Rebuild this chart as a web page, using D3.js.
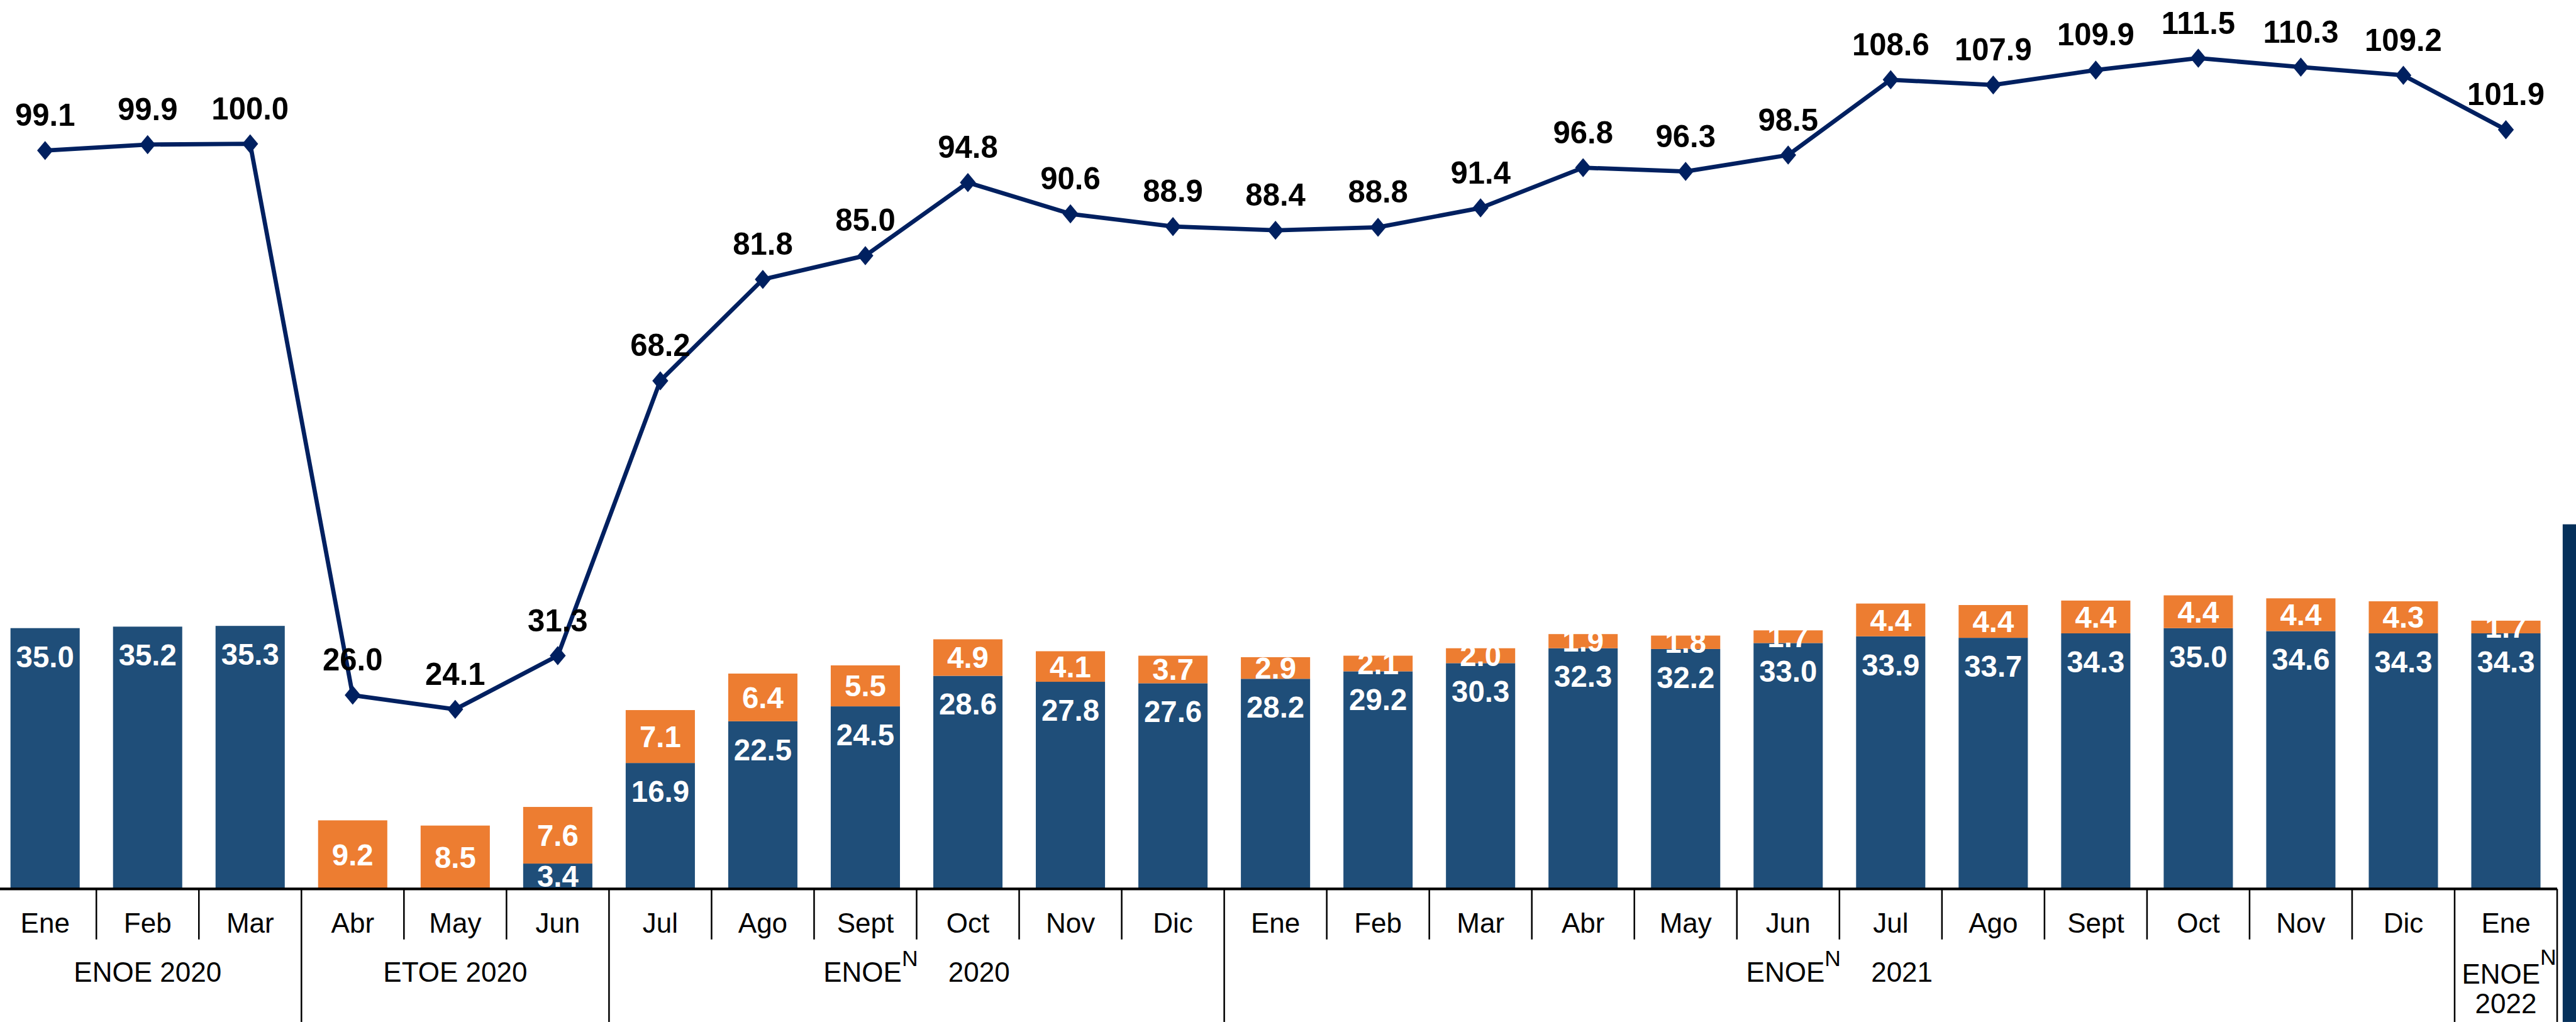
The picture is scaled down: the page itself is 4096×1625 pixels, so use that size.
<!DOCTYPE html>
<html>
<head>
<meta charset="utf-8">
<script src="https://cdn.jsdelivr.net/npm/d3@7"></script>
<style>
  html, body { margin: 0; padding: 0; background: #ffffff; overflow: hidden; }
  svg { display: block; }
</style>
</head>
<body>
<main></main>
<script>
// periods shown on the x axis
const periods = ["2020-01","2020-02","2020-03","2020-04","2020-05","2020-06","2020-07","2020-08","2020-09","2020-10","2020-11","2020-12",
                 "2021-01","2021-02","2021-03","2021-04","2021-05","2021-06","2021-07","2021-08","2021-09","2021-10","2021-11","2021-12","2022-01"];
const monthLabels = ["Ene","Feb","Mar","Abr","May","Jun","Jul","Ago","Sept","Oct","Nov","Dic",
                     "Ene","Feb","Mar","Abr","May","Jun","Jul","Ago","Sept","Oct","Nov","Dic","Ene"];

// stacked bars (blue bottom, orange top) and the line
const blueValues   = [35.0, 35.2, 35.3, null, null, 3.4, 16.9, 22.5, 24.5, 28.6, 27.8, 27.6,
                      28.2, 29.2, 30.3, 32.3, 32.2, 33.0, 33.9, 33.7, 34.3, 35.0, 34.6, 34.3, 34.3];
const orangeValues = [null, null, null, 9.2, 8.5, 7.6, 7.1, 6.4, 5.5, 4.9, 4.1, 3.7,
                      2.9, 2.1, 2.0, 1.9, 1.8, 1.7, 4.4, 4.4, 4.4, 4.4, 4.4, 4.3, 1.7];
const lineValues   = [99.1, 99.9, 100.0, 26.0, 24.1, 31.3, 68.2, 81.8, 85.0, 94.8, 90.6, 88.9,
                      88.4, 88.8, 91.4, 96.8, 96.3, 98.5, 108.6, 107.9, 109.9, 111.5, 110.3, 109.2, 101.9];

// survey groups below the months
const groupMain = ["ENOE 2020", "ETOE 2020", "ENOE", "ENOE", "ENOE"];
const groupSup  = ["", "", "N", "N", "N"];
const groupYear = ["", "", "2020", "2021", "2022"];
const groupSpan = [3, 3, 6, 12, 1];

const W = 4840, H = 1920;
const FONT = "'Liberation Sans', Arial, Helvetica, sans-serif";
const BLUE = "#1F4E79", ORANGE = "#ED7D31", NAVY = "#002060";
const BASE_Y = 1670;

const svg = d3.select("main").append("svg")
    .attr("width", 4096)
    .attr("height", 1625)
    .attr("viewBox", "0 0 " + W + " " + H)
    .style("font-family", FONT);

svg.append("rect").attr("width", W).attr("height", H).attr("fill", "#ffffff");

const x = d3.scaleBand()
    .domain(periods)
    .range([-11.6, 4804.6])
    .paddingInner(0.325)
    .paddingOuter(0.1625);

const y = d3.scaleLinear()
    .domain([0, 119.3])
    .range([BASE_Y, 0]);

const step = x.step();
const bandLeft = function (i) { return x(periods[i]) - x.paddingOuter() * step; };
const fmt = d3.format(".1f");

// decorative strip on the right edge
svg.append("rect")
    .attr("x", 4815).attr("y", 985)
    .attr("width", W - 4815).attr("height", H - 985)
    .attr("fill", "#05305A");

// ---- bars ----
const rows = periods.map(function (p, i) {
    const b = blueValues[i] || 0;
    const o = orangeValues[i] || 0;
    return {key: p, blue: blueValues[i], orange: orangeValues[i], b: b, o: o};
});

const bars = svg.append("g");

bars.selectAll("rect.blue")
    .data(rows.filter(function (d) { return d.blue != null; }))
    .enter().append("rect")
    .attr("class", "blue")
    .attr("x", function (d) { return x(d.key); })
    .attr("width", x.bandwidth())
    .attr("y", function (d) { return y(d.b); })
    .attr("height", function (d) { return y(0) - y(d.b); })
    .attr("fill", BLUE);

bars.selectAll("rect.orange")
    .data(rows.filter(function (d) { return d.orange != null; }))
    .enter().append("rect")
    .attr("class", "orange")
    .attr("x", function (d) { return x(d.key); })
    .attr("width", x.bandwidth())
    .attr("y", function (d) { return y(d.b + d.o); })
    .attr("height", function (d) { return y(d.b) - y(d.b + d.o); })
    .attr("fill", ORANGE);

// bar labels
bars.selectAll("text.blue")
    .data(rows.filter(function (d) { return d.blue != null; }))
    .enter().append("text")
    .attr("class", "blue")
    .attr("x", function (d) { return x(d.key) + x.bandwidth() / 2; })
    .attr("y", function (d) {
        const top = y(d.b);
        const mid = (y(d.b) + y(0)) / 2;
        return Math.min(top + 73, mid + 20);
    })
    .attr("text-anchor", "middle")
    .attr("font-size", 56)
    .attr("font-weight", "bold")
    .attr("fill", "#ffffff")
    .text(function (d) { return fmt(d.blue); });

bars.selectAll("text.orange")
    .data(rows.filter(function (d) { return d.orange != null; }))
    .enter().append("text")
    .attr("class", "orange")
    .attr("x", function (d) { return x(d.key) + x.bandwidth() / 2; })
    .attr("y", function (d) { return (y(d.b) + y(d.b + d.o)) / 2 + 20; })
    .attr("text-anchor", "middle")
    .attr("font-size", 56)
    .attr("font-weight", "bold")
    .attr("fill", "#ffffff")
    .text(function (d) { return fmt(d.orange); });

// ---- line ----
const cx = function (d, i) { return x(periods[i]) + x.bandwidth() / 2; };

const line = d3.line()
    .x(cx)
    .y(function (d) { return y(d); });

svg.append("path")
    .datum(lineValues)
    .attr("d", line)
    .attr("fill", "none")
    .attr("stroke", NAVY)
    .attr("stroke-width", 8)
    .attr("stroke-linejoin", "round");

svg.append("g").selectAll("path")
    .data(lineValues)
    .enter().append("path")
    .attr("transform", function (d, i) { return "translate(" + cx(d, i) + "," + y(d) + ")"; })
    .attr("d", "M0,-18L15,0L0,18L-15,0Z")
    .attr("fill", NAVY);

svg.append("g").selectAll("text")
    .data(lineValues)
    .enter().append("text")
    .attr("x", cx)
    .attr("y", function (d) { return y(d) - 46; })
    .attr("text-anchor", "middle")
    .attr("font-size", 58)
    .attr("font-weight", "bold")
    .attr("fill", "#000000")
    .text(function (d) { return fmt(d); });

// ---- x axis ----
const axis = svg.append("g")
    .attr("transform", "translate(0," + BASE_Y + ")")
    .call(d3.axisBottom(x).tickSize(0).tickFormat(function (d, i) { return monthLabels[i]; }));

axis.select(".domain").remove();
axis.selectAll(".tick text")
    .attr("y", 82)
    .attr("dy", null)
    .attr("font-size", 52)
    .attr("font-family", FONT)
    .attr("fill", "#000000");

// separators between months and between groups
const groupEnds = d3.cumsum(groupSpan);
const seps = d3.range(1, periods.length + 1);

svg.append("g").selectAll("line")
    .data(seps)
    .enter().append("line")
    .attr("x1", function (i) { return bandLeft(i - 1) + step; })
    .attr("x2", function (i) { return bandLeft(i - 1) + step; })
    .attr("y1", BASE_Y)
    .attr("y2", function (i) { return groupEnds.indexOf(i) >= 0 ? H : 1765; })
    .attr("stroke", "#000000")
    .attr("stroke-width", 3);

svg.append("line")
    .attr("x1", bandLeft(0)).attr("x2", bandLeft(periods.length - 1) + step)
    .attr("y1", BASE_Y).attr("y2", BASE_Y)
    .attr("stroke", "#000000")
    .attr("stroke-width", 5);

// group labels
const groups = svg.append("g")
    .attr("font-size", 52)
    .attr("fill", "#000000");

groupMain.forEach(function (name, g) {
    const start = g === 0 ? 0 : groupEnds[g - 1];
    const left = bandLeft(start);
    const right = bandLeft(start) + groupSpan[g] * step;
    const mid = (left + right) / 2;

    if (groupSpan[g] === 1) {
        // narrow group: two lines
        const t1 = groups.append("text")
            .attr("x", mid + 6).attr("y", 1848)
            .attr("text-anchor", "middle");
        t1.append("tspan").text(name);
        t1.append("tspan").attr("dy", -36).attr("font-size", 42).text(groupSup[g]);
        groups.append("text")
            .attr("x", mid).attr("y", 1903)
            .attr("text-anchor", "middle")
            .text(groupYear[g]);
        return;
    }

    const t = groups.append("text")
        .attr("x", mid).attr("y", 1845)
        .attr("text-anchor", "middle");
    t.append("tspan").text(name);
    if (groupSup[g]) {
        t.append("tspan").attr("dy", -30).attr("font-size", 42).text(groupSup[g]);
        t.append("tspan").attr("dy", 30).attr("dx", 57).text(groupYear[g]);
    }
});
</script>
</body>
</html>
